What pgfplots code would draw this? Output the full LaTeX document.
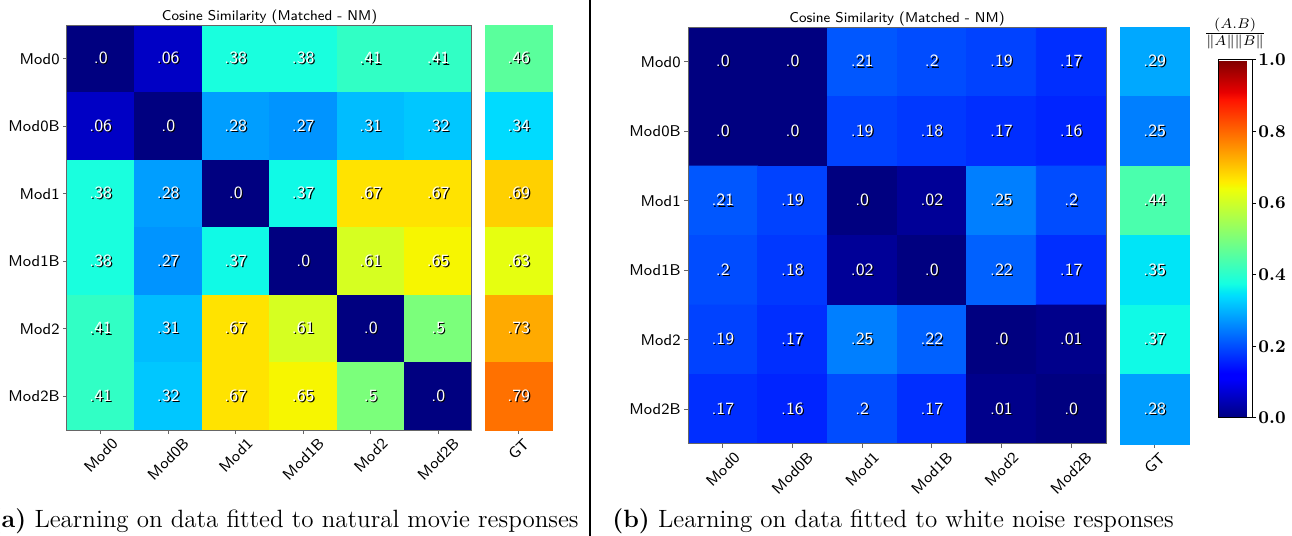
\documentclass[border=0pt]{standalone}
\usepackage{graphicx}
\usepackage{pgfplots}
\usepackage{pgfplotstable}
\pgfplotsset{compat=1.18}

\pgfplotstableread{
x y v
0 0 0
1 0 0.06
2 0 0.38
3 0 0.38
4 0 0.41
5 0 0.41
0 1 0.06
1 1 0
2 1 0.28
3 1 0.27
4 1 0.31
5 1 0.32
0 2 0.38
1 2 0.28
2 2 0
3 2 0.37
4 2 0.67
5 2 0.67
0 3 0.38
1 3 0.27
2 3 0.37
3 3 0
4 3 0.61
5 3 0.65
0 4 0.41
1 4 0.31
2 4 0.67
3 4 0.61
4 4 0
5 4 0.5
0 5 0.41
1 5 0.32
2 5 0.67
3 5 0.65
4 5 0.5
5 5 0
}\matA

\pgfplotstableread{
x y v
0 0 0.46
0 1 0.34
0 2 0.69
0 3 0.63
0 4 0.73
0 5 0.79
}\gtA

\pgfplotstableread{
x y v
0 0 0
1 0 0
2 0 0.21
3 0 0.2
4 0 0.19
5 0 0.17
0 1 0
1 1 0
2 1 0.19
3 1 0.18
4 1 0.17
5 1 0.16
0 2 0.21
1 2 0.19
2 2 0
3 2 0.02
4 2 0.25
5 2 0.2
0 3 0.2
1 3 0.18
2 3 0.02
3 3 0
4 3 0.22
5 3 0.17
0 4 0.19
1 4 0.17
2 4 0.25
3 4 0.22
4 4 0
5 4 0.01
0 5 0.17
1 5 0.16
2 5 0.2
3 5 0.17
4 5 0.01
5 5 0
}\matB

\pgfplotstableread{
x y v
0 0 0.29
0 1 0.25
0 2 0.44
0 3 0.35
0 4 0.37
0 5 0.28
}\gtB

\newcommand\cellnum{\ifdim\pgfplotspointmetatransformed pt<1pt .0\else\pgfmathprintnumber[fixed,precision=2,skip 0.,assume math mode=true]{\pgfplotspointmeta}\fi}

\pgfplotsset{
  colormap={mpljet}{
    rgb(0pt)=(0,0,0.5) rgb(110pt)=(0,0,1) rgb(125pt)=(0,0,1)
    rgb(340pt)=(0,0.86,1) rgb(350pt)=(0,0.9,0.9677) rgb(375pt)=(0.0806,1,0.8871)
    rgb(640pt)=(0.9355,1,0.0323) rgb(650pt)=(0.9677,0.963,0) rgb(660pt)=(1,0.9259,0)
    rgb(890pt)=(1,0.0741,0) rgb(910pt)=(0.9091,0,0) rgb(1000pt)=(0.5,0,0)},
  hmbase/.style={
    scale only axis, axis on top,
    colormap name=mpljet,
    point meta min=0, point meta max=1,
    y dir=reverse, ymin=-0.5, ymax=5.5,
    axis line style={draw=gray!80!black, line width=0.5pt},
    tick align=outside, major tick length=2pt,
    tick style={draw=gray!80!black, line width=0.5pt},
    xtick pos=left, ytick pos=left,
    ticklabel style={font=\sffamily\fontsize{7.8}{9}\selectfont, text=black},
    xticklabel style={anchor=north, inner sep=1.5pt},
    yticklabel style={anchor=east, inner sep=1.5pt},
    title style={font=\sffamily\fontsize{7.1}{9}\selectfont, at={(0.5,1)}, anchor=base, yshift=-3.5pt, inner sep=0pt},
  },
  celllabels/.style={
    nodes near coords={\rlap{\kern0.6pt\raisebox{-0.6pt}{\color{black}\cellnum}}\color{white}\cellnum},
    every node near coord/.append style={anchor=center, inner sep=0pt, font=\sffamily\fontsize{8.6}{10}\selectfont},
  },
}

\begin{document}
\begin{tikzpicture}
\useasboundingbox (0,0) rectangle (646pt,-268pt);

% ---------- panel (a) ----------
\begin{axis}[hmbase, at={(33.5pt,-12.5pt)}, anchor=north west,
  width=202.5pt, height=202.5pt, xmin=-0.5, xmax=5.5,
  xtick={0,1,2,3,4,5},
  xticklabels={\rotatebox{45}{Mod0},\rotatebox{45}{Mod0B},\rotatebox{45}{Mod1},\rotatebox{45}{Mod1B},\rotatebox{45}{Mod2},\rotatebox{45}{Mod2B}},
  ytick={0,1,2,3,4,5},
  yticklabels={Mod0,Mod0B,Mod1,Mod1B,Mod2,Mod2B},
  title={Cosine Similarity (Matched - NM)}]
\addplot[matrix plot*, mesh/cols=6, point meta=explicit, celllabels] table[x=x,y=y,meta=v]{\matA};
\end{axis}

\begin{axis}[hmbase, at={(242.5pt,-12.5pt)}, anchor=north west,
  width=33.75pt, height=202.5pt, xmin=-0.5, xmax=0.5,
  xtick={0}, xticklabels={\rotatebox{45}{GT}}, ytick=\empty]
\addplot[scatter, only marks, mark=square*, mark size=16.875pt, point meta=explicit,
  scatter/use mapped color={draw=mapped color, fill=mapped color}] table[x=x,y=y,meta=v]{\gtA};
\addplot[draw=none, mark=none, point meta=explicit, celllabels] table[x=x,y=y,meta=v]{\gtA};
\end{axis}

% ---------- panel (b) ----------
\begin{axis}[hmbase, at={(344pt,-13.5pt)}, anchor=north west,
  width=209pt, height=208.5pt, xmin=-0.5, xmax=5.5,
  xtick={0,1,2,3,4,5},
  xticklabels={\rotatebox{45}{Mod0},\rotatebox{45}{Mod0B},\rotatebox{45}{Mod1},\rotatebox{45}{Mod1B},\rotatebox{45}{Mod2},\rotatebox{45}{Mod2B}},
  ytick={0,1,2,3,4,5},
  yticklabels={Mod0,Mod0B,Mod1,Mod1B,Mod2,Mod2B},
  title={Cosine Similarity (Matched - NM)}]
\addplot[matrix plot*, mesh/cols=6, point meta=explicit, celllabels] table[x=x,y=y,meta=v]{\matB};
\end{axis}

\begin{axis}[hmbase, at={(560pt,-13.5pt)}, anchor=north west,
  width=34.75pt, height=208.5pt, xmin=-0.5, xmax=0.5,
  xtick={0}, xticklabels={\rotatebox{45}{GT}}, ytick=\empty,
  colorbar,
  colorbar style={at={(parent axis.east)}, anchor=west, xshift=5.75pt, yshift=-1.75pt,
    width=17pt, height=179pt,
    ytick={0,0.2,0.4,0.6,0.8,1}, ytick pos=right, yticklabel pos=right,
    tick align=outside, major tick length=2pt,
    tick style={draw=black, line width=0.5pt},
    axis line style={draw=black, line width=0.5pt},
    yticklabel style={font=\bfseries\fontsize{9}{10}\selectfont, inner sep=1pt,
      /pgf/number format/.cd, fixed, fixed zerofill, precision=1, assume math mode=true},
    title={$\frac{(A.B)}{\|A\|\|B\|}$},
    title style={at={(0.5,1)}, anchor=south, inner sep=0pt, yshift=-0.5pt, font=\fontsize{10}{12}\selectfont}}]
\addplot[scatter, only marks, mark=square*, mark size=17.375pt, point meta=explicit,
  scatter/use mapped color={draw=mapped color, fill=mapped color}] table[x=x,y=y,meta=v]{\gtB};
\addplot[draw=none, mark=none, point meta=explicit, celllabels] table[x=x,y=y,meta=v]{\gtB};
\end{axis}

% separator and captions
\draw[line width=0.6pt] (295pt,0pt) -- (295pt,-268pt);
\node[anchor=base east, inner sep=0pt, font=\fontsize{12.5}{14}\selectfont] at (289.5pt,-263.5pt)
  {\textbf{(a)} Learning on data fitted to natural movie responses};
\node[anchor=base west, inner sep=0pt, font=\fontsize{12.5}{14}\selectfont] at (306pt,-263.5pt)
  {\textbf{(b)} Learning on data fitted to white noise responses};
\end{tikzpicture}
\end{document}
